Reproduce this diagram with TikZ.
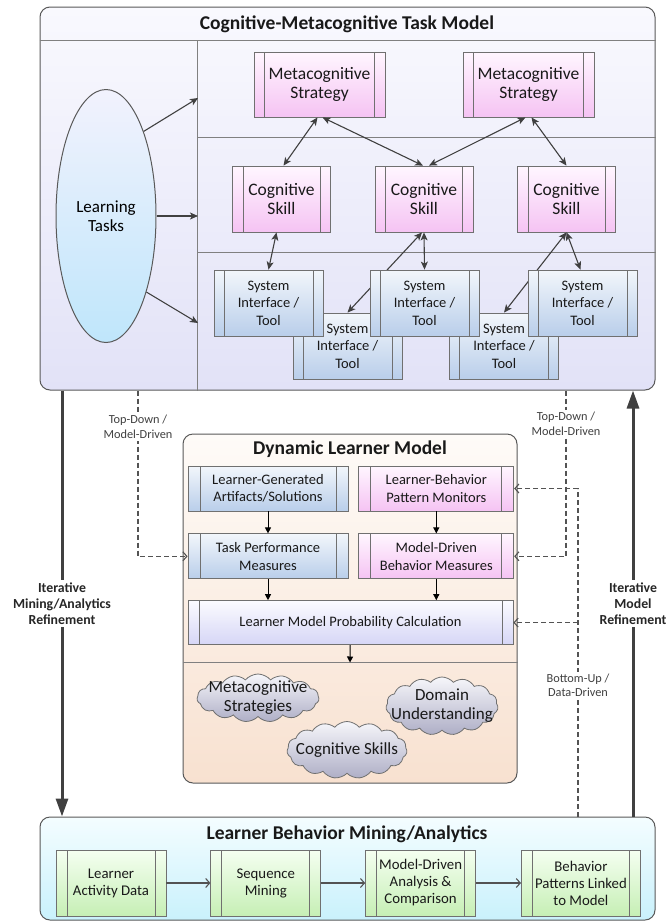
\documentclass[tikz,border=0pt]{standalone}
\usepackage{fontspec}
\setmainfont{Carlito}
\usetikzlibrary{arrows.meta,positioning,shapes.geometric,shapes.symbols}

\definecolor{panelline}{HTML}{595959}
\definecolor{boxline}{HTML}{707070}
\definecolor{arrowgray}{HTML}{404040}
\definecolor{ctmtop}{HTML}{F9F9FE}
\definecolor{ctmbottom}{HTML}{E2E2F7}
\definecolor{dlmtop}{HTML}{FEFBF8}
\definecolor{dlmbottom}{HTML}{F8E1D0}
\definecolor{lbmtop}{HTML}{F4FDFF}
\definecolor{lbmbottom}{HTML}{C9F1FC}
\definecolor{pinktop}{HTML}{FFF6FF}
\definecolor{pinkbottom}{HTML}{F5C3F3}
\definecolor{bluetop}{HTML}{F2F6FB}
\definecolor{bluebottom}{HTML}{B9CEEA}
\definecolor{lilactop}{HTML}{FBFBFF}
\definecolor{lilacbottom}{HTML}{D6D6F6}
\definecolor{greentop}{HTML}{F5FFF1}
\definecolor{greenbottom}{HTML}{C6EFB5}
\definecolor{cloudtop}{HTML}{F6F6FA}
\definecolor{cloudbottom}{HTML}{AEAEC6}
\definecolor{ovaltop}{HTML}{F2F2FD}
\definecolor{ovalbottom}{HTML}{BFE6FB}

\begin{document}
\begin{tikzpicture}
[x=1pt, y=-1pt,
% STYLES
% The panel style is used for the three big rounded frames
panel/.style={rectangle, rounded corners=10pt, draw=panelline, line width=1pt, inner sep=0pt},
title/.style={font=\fontsize{19.5}{23}\selectfont\bfseries, text=black!90},
sepline/.style={draw=gray, line width=1pt},
% The subbox style draws a box with a bar on each side
subbox/.style={rectangle, draw=boxline, line width=0.8pt, inner sep=0pt, align=center, text=black!90,
  path picture={\draw[boxline, line width=0.8pt]
    ([xshift=#1]path picture bounding box.north west) -- ([xshift=#1]path picture bounding box.south west)
    ([xshift=-#1]path picture bounding box.north east) -- ([xshift=-#1]path picture bounding box.south east);}},
subbox/.default=10.5pt,
metabox/.style={subbox, top color=pinktop, bottom color=pinkbottom, minimum width=131pt, minimum height=65pt, font=\fontsize{17.5}{19}\selectfont},
cogbox/.style={subbox, top color=pinktop, bottom color=pinkbottom, minimum width=98pt, minimum height=66pt, font=\fontsize{17.5}{19}\selectfont},
toolbox/.style={subbox=10pt, top color=bluetop, bottom color=bluebottom, minimum width=109pt, minimum height=66pt, font=\fontsize{14.5}{17.5}\selectfont},
oval/.style={ellipse, draw=panelline, line width=1pt, top color=ovaltop, bottom color=ovalbottom, minimum width=100pt, minimum height=253pt, inner sep=0pt, align=center, font=\fontsize{17}{19}\selectfont},
% boxes of the learner model
bluebox/.style={subbox=12pt, top color=bluetop, bottom color=bluebottom, minimum height=45pt, font=\fontsize{14.5}{17.5}\selectfont},
pinkbox/.style={subbox=12pt, top color=pinktop, bottom color=pinkbottom, minimum height=45pt, font=\fontsize{14.5}{17.5}\selectfont},
calcbox/.style={subbox=11pt, top color=lilactop, bottom color=lilacbottom, minimum height=44pt, font=\fontsize{14.5}{17.5}\selectfont},
cloudnode/.style={cloud, cloud puffs=15, cloud puff arc=100, cloud ignores aspect, draw=boxline, line width=0.8pt, top color=cloudtop, bottom color=cloudbottom, inner sep=0pt},
cloudtext/.style={align=center, text=black!90, font=\fontsize{17}{19}\selectfont},
% boxes of the mining steps
stepbox/.style={subbox=11pt, top color=greentop, bottom color=greenbottom, minimum width=110pt, minimum height=66pt, font=\fontsize{14.8}{17}\selectfont},
% labels on the connectors
note/.style={fill=white, inner sep=2pt, align=center, text=arrowgray, font=\fontsize{12.3}{14.5}\selectfont},
bignote/.style={fill=white, inner sep=3pt, align=center, text=black!85, font=\fontsize{13.8}{16}\selectfont\bfseries},
% connectors
twoway/.style={<->, >={Stealth[length=8pt,width=7pt,inset=2pt]}, color=arrowgray, line width=1.1pt},
graylink/.style={->, >={Stealth[length=8pt,width=7pt,inset=2pt]}, color=arrowgray, line width=1.1pt},
oneway/.style={->, >={Triangle[length=6pt,width=6pt]}, color=black, line width=1pt},
bigarrow/.style={->, >={Triangle[length=18pt,width=12pt]}, color=arrowgray, line width=3pt},
dasharrow/.style={->, >={Straight Barb[length=4pt,width=9pt]}, color=arrowgray!90, line width=1.1pt, dash pattern=on 5pt off 3pt},
flowarrow/.style={->, >={Straight Barb[length=4pt,width=9pt]}, color=arrowgray!90, line width=1.1pt}]

\useasboundingbox (0,0) rectangle (665,922);

% Draw panels
\node [panel, top color=ctmtop, bottom color=ctmbottom, minimum width=615pt, minimum height=383pt] (ctm) at (347.5,198.5) {};
\node [panel, top color=dlmtop, bottom color=dlmbottom, minimum width=334pt, minimum height=349pt] (dlm) at (350,608.5) {};
\node [panel, top color=lbmtop, bottom color=lbmbottom, minimum width=615pt, minimum height=103pt] (lbm) at (347.5,868.5) {};

\node [title] (ctmtitle) at (347,24) {Cognitive-Metacognitive Task Model};
\node [title] (dlmtitle) at (350,449) {Dynamic Learner Model};
\node [title] (lbmtitle) at (347,834) {Learner Behavior Mining/Analytics};

\draw [sepline] ([yshift=-34pt]ctm.north west) -- ([yshift=-34pt]ctm.north east);
\draw [sepline] ([xshift=158pt,yshift=-34pt]ctm.north west) -- ([xshift=158pt]ctm.south west);
\draw [sepline] ([xshift=158pt,yshift=-131pt]ctm.north west) -- ([yshift=-131pt]ctm.north east);
\draw [sepline] ([xshift=158pt,yshift=-246pt]ctm.north west) -- ([yshift=-246pt]ctm.north east);
\draw [sepline] ([yshift=-229pt]dlm.north west) -- ([yshift=-229pt]dlm.north east);
\coordinate (dlmsep) at ([yshift=-229pt]dlm.north);

%%%%%%%%%%%%%%%
% Task model

\node [oval] (learntasks) at (106,216) {Learning\\Tasks};
\coordinate (toprow) at (198,98);
\coordinate (midrow) at (198,216);
\coordinate (lowrow) at (198,323);

\node [metabox] (meta1) at (319.5,84.5) {Metacognitive\\Strategy};
\node [metabox] (meta2) at (528.5,84.5) {Metacognitive\\Strategy};

\node [cogbox] (cog1) at (281.5,199) {Cognitive\\Skill};
\node [cogbox] (cog2) at (424,199) {Cognitive\\Skill};
\node [cogbox] (cog3) at (566.5,199) {Cognitive\\Skill};

% tools at the back
\node [toolbox] (toolb1) at (347.5,346) {System\\Interface /\\Tool};
\node [toolbox] (toolb2) at (504,346) {System\\Interface /\\Tool};

\path [twoway]
([xshift=-2pt]cog2.south) edge (toolb1.north)
(cog3.south) edge (toolb2.north);

% tools at the front
\node [toolbox] (toolf1) at (268.5,303) {System\\Interface /\\Tool};
\node [toolbox] (toolf2) at (424.5,303) {System\\Interface /\\Tool};
\node [toolbox] (toolf3) at (582.5,303) {System\\Interface /\\Tool};

\path [graylink]
(learntasks.66) edge (toprow)
(learntasks.east) edge (midrow)
(learntasks.-62) edge (lowrow);

\path [twoway]
([xshift=-2pt]meta1.south) edge ([xshift=2pt]cog1.north)
([xshift=3pt]meta1.south) edge ([xshift=-1pt]cog2.north)
([xshift=-3pt]meta2.south) edge ([xshift=5pt]cog2.north)
([xshift=3pt]meta2.south) edge (cog3.north)
([xshift=-5pt]cog1.south) edge (toolf1.north)
(cog2.south) edge (toolf2.north)
(cog3.south) edge ([xshift=-2pt]toolf3.north);

%%%%%%%%%%%%%%%
% Learner model

\node [bluebox, minimum width=160pt] (lga) at (268,488.5) {Learner-Generated\\Artifacts/Solutions};
\node [pinkbox, minimum width=155pt, right=10pt of lga] (lbpm) {Learner-Behavior\\Pattern Monitors};
\node [bluebox, minimum width=160pt, below=22pt of lga] (tpm) {Task Performance\\Measures};
\node [pinkbox, minimum width=155pt, below=22pt of lbpm] (mdbm) {Model-Driven\\Behavior Measures};
\node [calcbox, minimum width=325pt, anchor=north west] (lmpc) at ([yshift=-21pt]tpm.south west) {Learner Model Probability Calculation};

\path [oneway]
(lga) edge (tpm)
(lbpm) edge (mdbm)
(tpm) edge (tpm.south |- lmpc.north)
(mdbm) edge (mdbm.south |- lmpc.north)
(lmpc) edge (dlmsep);

\node [cloudnode, minimum width=122pt, minimum height=48pt, label={[cloudtext]center:Metacognitive\\Strategies}] (metacloud) at (258,698) {};
\node [cloudnode, minimum width=112pt, minimum height=58pt, label={[cloudtext]center:Domain\\Understanding}] (domaincloud) at (442,706) {};
\node [cloudnode, minimum width=120pt, minimum height=57pt, label={[cloudtext]center:Cognitive Skills}] (cogcloud) at (347,750) {};

%%%%%%%%%%%%%%%
% Mining steps

\node [stepbox] (lad) at (111,883) {Learner\\Activity Data};
\node [stepbox, right=44pt of lad] (seqmine) {Sequence\\Mining};
\node [stepbox, right=44pt of seqmine] (mdac) {Model-Driven\\Analysis \&\\Comparison};
\node [stepbox, minimum width=119pt, right=45pt of mdac] (bplm) {Behavior\\Patterns Linked\\to Model};

\path [flowarrow]
(lad) edge (seqmine)
(seqmine) edge (mdac)
(mdac) edge (bplm);

%%%%%%%%%%%%%%%
% Links between the panels

\coordinate (minex) at (62,0);
\coordinate (refinex) at (633,0);
\coordinate (topdownl) at (138,0);
\coordinate (topdownr) at (566,0);
\coordinate (bottomup) at (578,0);

\draw [bigarrow] (ctm.south -| minex) -- node [bignote] {Iterative\\Mining/Analytics\\Refinement} (lbm.north -| minex);
\draw [bigarrow] (lbm.north -| refinex) -- node [bignote] {Iterative\\Model\\Refinement} (ctm.south -| refinex);

\draw [dasharrow] (ctm.south -| topdownl) |- node [note, pos=0.11] {Top-Down /\\Model-Driven} (tpm.west);
\draw [dasharrow] (ctm.south -| topdownr) |- node [note, pos=0.1] {Top-Down /\\Model-Driven} (mdbm.east);
\draw [dasharrow] (lbm.north -| bottomup) |- node [note, pos=0.2] {Bottom-Up /\\Data-Driven} (lbpm.east);
\draw [dasharrow] (lmpc.east -| bottomup) -- (lmpc.east);

\end{tikzpicture}
\end{document}
